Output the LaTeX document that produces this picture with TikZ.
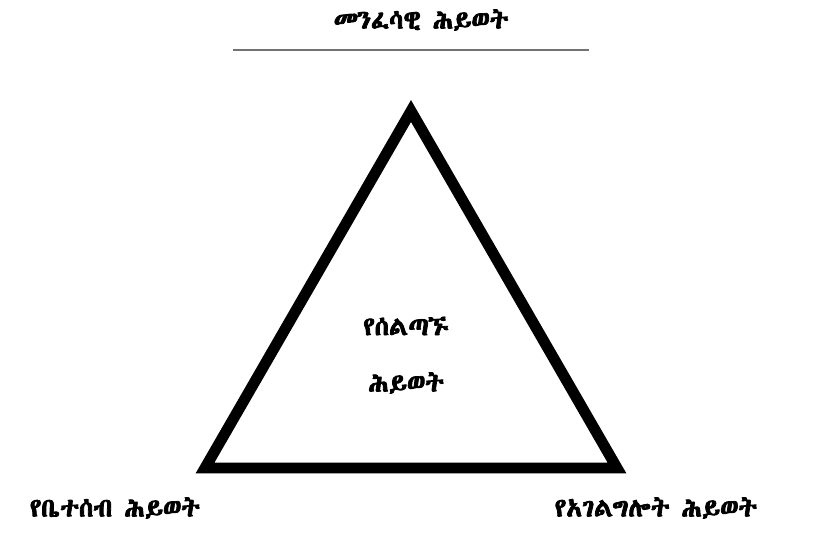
\documentclass[tikz,border=0pt]{standalone}
\usepackage{fontspec}
\IfFontExistsTF{Abyssinica SIL}{%
  \newfontfamily\ethfont{Abyssinica SIL}[AutoFakeBold=3]}{%
  \IfFontExistsTF{FreeSerif}{%
    \newfontfamily\ethfont{FreeSerif}[AutoFakeBold=3]}{%
    \newfontfamily\ethfont{DejaVu Sans}}}
\usetikzlibrary{positioning}

\begin{document}
\begin{tikzpicture}[
    x=0.75pt, y=-0.75pt,
    label/.style={font=\ethfont\bfseries\fontsize{19.5}{24}\selectfont, inner sep=0pt, align=center},
    side/.style={line width=8.2pt, miter limit=10, line join=miter},
    rule/.style={line width=1.6pt, draw=black!55}
]
    \useasboundingbox (0,0) rectangle (815,544);

    % corners of the triangle
    \coordinate (top) at (411,111);
    \coordinate (left) at (205,468);
    \coordinate (right) at (617,468);
    \draw[side] (top) -- (left) -- (right) -- cycle;

    % heading over the line
    \node[label] (spirit) at (421,20) {መንፈሳዊ ሕይወት};
    \coordinate (ruleA) at (233,50);
    \coordinate (ruleB) at (589,50);
    \draw[rule] (ruleA) -- (ruleB);

    \node[label] (self1) at (406,326) {የሰልጣኙ};
    \node[label] (self2) at (406,383) {ሕይወት};

    \node[label] (family) at (115,508) {የቤተሰብ ሕይወት};
    \node[label] (service) at (656,508) {የአገልግሎት ሕይወት};
\end{tikzpicture}
\end{document}
